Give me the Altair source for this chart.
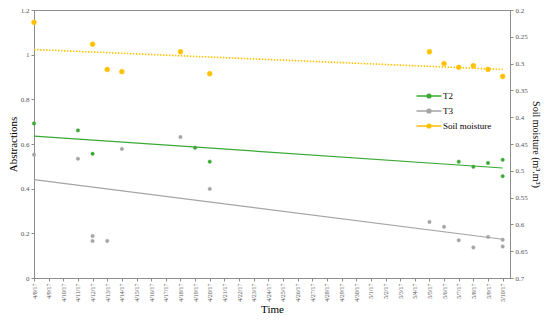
import json
import altair as alt
import pandas as pd

# ---- data ----
date_labels = [f"4/{d}/17" for d in range(8, 31)] + [f"5/{d}/17" for d in range(1, 11)]

t2_days = [0, 3, 4, 11, 12, 29, 30, 31, 32, 32]
t2_vals = [0.692, 0.661, 0.556, 0.583, 0.521, 0.521, 0.498, 0.515, 0.529, 0.456]

t3_days = [0, 3, 4, 4, 5, 6, 10, 12, 27, 28, 29, 30, 31, 32, 32]
t3_vals = [0.552, 0.534, 0.188, 0.166, 0.166, 0.578, 0.631, 0.399,
           0.251, 0.229, 0.169, 0.137, 0.184, 0.171, 0.141]

soil_days = [0, 4, 5, 6, 10, 12, 27, 28, 29, 30, 31, 32]
soil_vals = [0.223, 0.264, 0.311, 0.315, 0.278, 0.319,
             0.278, 0.300, 0.307, 0.304, 0.311, 0.324]

series_names = ["T2", "T3", "Soil moisture"]
left_ticks = [0, 0.2, 0.4, 0.6, 0.8, 1.0, 1.2]
right_ticks = [0.2, 0.25, 0.3, 0.35, 0.4, 0.45, 0.5, 0.55, 0.6, 0.65, 0.7]

GREEN = "#3aa935"
GRAY = "#a5a5a5"
GOLD = "#ffc000"
FONT = "Liberation Serif"

rows = []
for d, v in zip(t2_days, t2_vals):
    rows.append({"day": d, "value": v, "series": "T2"})
for d, v in zip(t3_days, t3_vals):
    rows.append({"day": d, "value": v, "series": "T3"})
for d, v in zip(soil_days, soil_vals):
    rows.append({"day": d, "value": v, "series": "Soil moisture"})
df = pd.DataFrame(rows)

color_scale = alt.Scale(domain=series_names, range=[GREEN, GRAY, GOLD])
legend = alt.Legend(
    title=None, orient="none", legendX=388, legendY=79,
    symbolType="M-2,0H2M-0.3,0a0.3,0.3 0 1,0 0.6,0a0.3,0.3 0 1,0 -0.6,0",
    symbolSize=156, symbolStrokeWidth=1.5, labelOffset=7,
    labelFont=FONT, labelFontSize=9, labelColor="#000", rowPadding=3,
)
fill = alt.Fill("series:N", scale=color_scale, legend=legend)
stroke = alt.Stroke("series:N", scale=color_scale, legend=legend)

x = alt.X(
    "day:Q",
    scale=alt.Scale(domain=[0, 32.5], nice=False, zero=False),
    axis=alt.Axis(
        values=list(range(33)),
        labelExpr=json.dumps(date_labels) + "[datum.value]",
        labelAngle=270, labelFontSize=6, title="Time", titlePadding=2,
        grid=False, tickSize=3,
    ),
)

y_left = alt.Y(
    "value:Q",
    scale=alt.Scale(domain=[0, 1.2], nice=False),
    axis=alt.Axis(values=left_ticks, format="~g", title="Abstractions",
                  grid=False, tickSize=3, titlePadding=2),
)
y_right = alt.Y(
    "value:Q",
    scale=alt.Scale(domain=[0.2, 0.7], reverse=True, nice=False, zero=False),
    axis=alt.Axis(orient="right", values=right_ticks, format="~g",
                  title="Soil moisture (m³.m³)", titleFontSize=10,
                  grid=False, tickSize=3, titlePadding=3),
)

left_filter = alt.FieldOneOfPredicate(field="series", oneOf=["T2", "T3"])
soil_filter = alt.FieldEqualPredicate(field="series", equal="Soil moisture")

left_pts = alt.Chart().transform_filter(left_filter).mark_point(
    filled=True, size=12, opacity=1, strokeWidth=0.5).encode(
    x=x, y=y_left, fill=fill, stroke=stroke)
left_reg = alt.Chart().transform_filter(left_filter).transform_regression(
    "day", "value", groupby=["series"]).mark_line(strokeWidth=1.2).encode(
    x=x, y=y_left, stroke=stroke)

soil_pts = alt.Chart().transform_filter(soil_filter).mark_point(
    filled=True, size=24, opacity=1, strokeWidth=0.5).encode(
    x=x, y=y_right, fill=fill, stroke=stroke)
soil_reg = alt.Chart().transform_filter(soil_filter).transform_regression(
    "day", "value", groupby=["series"]).mark_line(
    strokeWidth=1.6, strokeDash=[1.5, 1.5]).encode(x=x, y=y_right, stroke=stroke)

chart = alt.layer(
    alt.layer(left_reg, left_pts),
    alt.layer(soil_reg, soil_pts),
    data=df,
).resolve_scale(y="independent").properties(
    width=476, height=268,
    autosize=alt.AutoSizeParams(type="none"),
    padding={"left": 26, "top": 2, "right": 32, "bottom": 36},
).configure_view(stroke="#8c8c8c").configure_axis(
    domainColor="#8c8c8c", tickColor="#8c8c8c", labelColor="#555555",
    labelFont=FONT, labelFontSize=7, titleFont=FONT, titleFontSize=11,
    titleFontWeight="normal", titleColor="#000000",
)

chart.save("out.html", embed_options={"renderer": "svg", "actions": False})
